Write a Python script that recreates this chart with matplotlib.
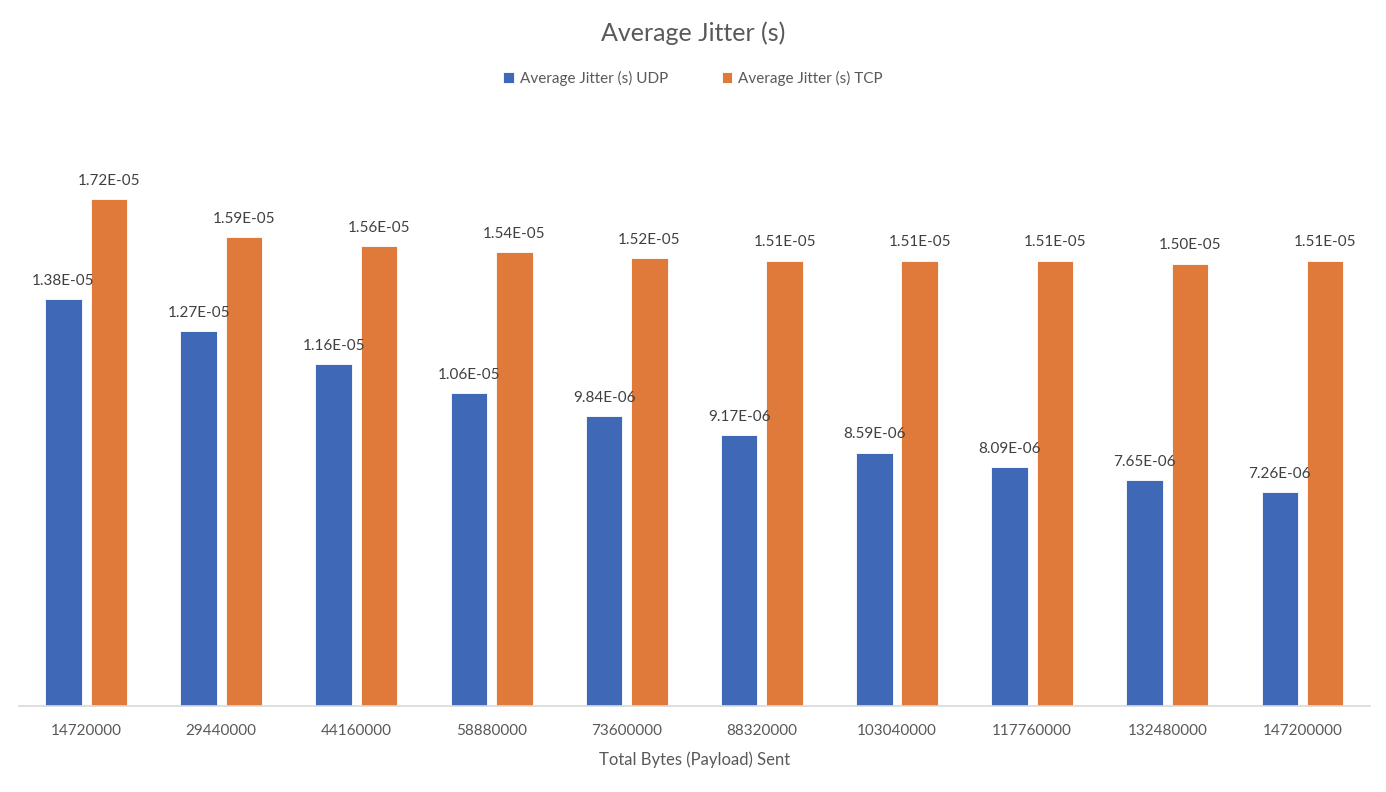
import numpy as np
import matplotlib.pyplot as plt

plt.rcParams['font.family'] = ['Lato', 'DejaVu Sans']

# data
payload_sent = ['14720000', '29440000', '44160000', '58880000', '73600000',
                '88320000', '103040000', '117760000', '132480000', '147200000']
jitter_udp = [1.38e-5, 1.27e-5, 1.16e-5, 1.06e-5, 9.84e-6,
              9.17e-6, 8.59e-6, 8.09e-6, 7.65e-6, 7.26e-6]
jitter_tcp = [1.72e-5, 1.59e-5, 1.56e-5, 1.54e-5, 1.52e-5,
              1.51e-5, 1.51e-5, 1.51e-5, 1.50e-5, 1.51e-5]

blue = '#3F68B6'
orange = '#E07A3A'
text_col = '#595959'

fig = plt.figure(figsize=(13.86, 7.92), dpi=100)
ax = fig.add_axes([0.0134, 0.1086, 0.9751, 0.7449])

x = np.arange(len(payload_sent))
w = 0.27
off = 0.168
b1 = ax.bar(x - off, jitter_udp, w, color=blue, edgecolor='white', linewidth=0.6,
            label='Average Jitter (s) UDP')
b2 = ax.bar(x + off, jitter_tcp, w, color=orange, edgecolor='white', linewidth=0.6,
            label='Average Jitter (s) TCP')

# value labels above each bar
for bars, vals in ((b1, jitter_udp), (b2, jitter_tcp)):
    for r, v in zip(bars, vals):
        ax.annotate(f'{v:.2E}', (r.get_x() + r.get_width() / 2, v),
                    xytext=(0, 8), textcoords='offset points',
                    ha='center', va='bottom', fontsize=11, color='#404040')

ax.set_xlim(-0.5, len(payload_sent) - 0.5)
ax.set_ylim(0, 2e-5)
ax.set_yticks([])
ax.set_xticks(x)
ax.set_xticklabels(payload_sent, fontsize=11, color=text_col)
ax.tick_params(axis='x', length=0, pad=13)
for s in ['top', 'left', 'right']:
    ax.spines[s].set_visible(False)
ax.spines['bottom'].set_color('#D9D9D9')
ax.spines['bottom'].set_linewidth(1.2)

ax.set_xlabel('Total Bytes (Payload) Sent', fontsize=12, color=text_col, labelpad=10)
fig.text(0.5, 0.958, 'Average Jitter (s)', ha='center', va='center',
         fontsize=18, color=text_col)
fig.legend(loc='center', bbox_to_anchor=(0.5, 0.901), ncol=2, frameon=False,
           fontsize=11, labelcolor=text_col, handlelength=0.7, handleheight=0.7,
           handletextpad=0.4, columnspacing=3.5)

fig.savefig('out.png', dpi=100, facecolor='white')
